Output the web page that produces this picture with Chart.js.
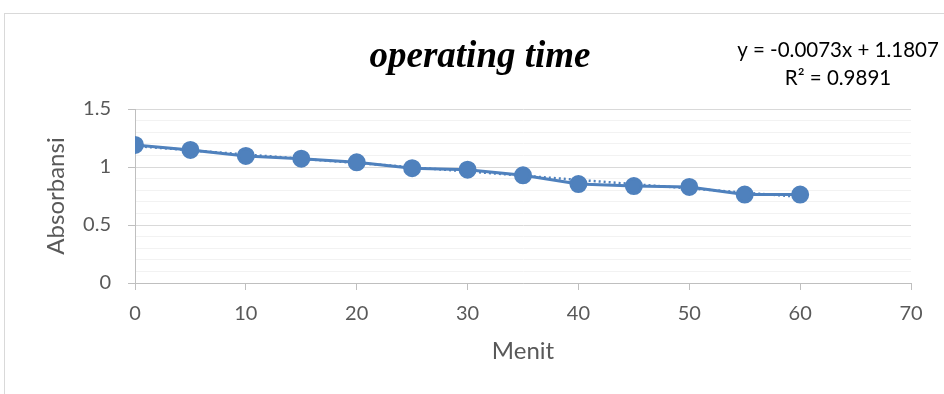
<!DOCTYPE html>
<html>
<head>
<meta charset="utf-8">
<script src="https://cdn.jsdelivr.net/npm/chart.js@4"></script>
<style>
  html, body { margin: 0; padding: 0; background: #fff; }
  #wrap { width: 944px; height: 394px; }
</style>
</head>
<body>
<div id="wrap"><canvas id="lineChart" width="944" height="394"></canvas></div>
<script>
// data
var menit = [0, 5, 10, 15, 20, 25, 30, 35, 40, 45, 50, 55, 60];
var absorbansi = [1.19, 1.147, 1.095, 1.072, 1.04, 0.99, 0.977, 0.928, 0.853, 0.836, 0.828, 0.762, 0.762];
var slope = -0.0073;
var intercept = 1.1807;
var trendX = [0, 60];
var equationLines = ['y = -0.0073x + 1.1807', 'R\u00b2 = 0.9891'];
var chartTitle = 'operating time';

var blue = '#4f81bd';
var sans = 'Lato, "Open Sans", sans-serif';

// frame + title + equation
var decor = {
    id: 'decor',
    beforeDraw: function (chart) {
        var c = chart.ctx;
        c.save();
        c.strokeStyle = '#d9d9d9';
        c.lineWidth = 1;
        c.strokeRect(4.5, 13.5, 1200, 1200);
        c.restore();
    },
    afterDraw: function (chart) {
        var c = chart.ctx;
        c.save();
        c.fillStyle = '#000';
        c.font = 'italic bold 37px "Liberation Serif", serif';
        c.textAlign = 'center';
        c.textBaseline = 'alphabetic';
        c.fillText(chartTitle, 480, 67);
        c.font = '20.5px ' + sans;
        c.textBaseline = 'middle';
        c.fillText(equationLines[0], 838, 50);
        c.fillText(equationLines[1], 838, 78);
        c.restore();
    }
};

var ctx = document.getElementById('lineChart').getContext('2d');
var myChart = new Chart(ctx, {
    type: 'scatter',
    data: {
        datasets: [{
            label: 'Absorbansi',
            data: menit.map(function (m, i) { return { x: m, y: absorbansi[i] }; }),
            showLine: true,
            borderColor: blue,
            backgroundColor: blue,
            borderWidth: 3,
            pointRadius: 7.5,
            pointHoverRadius: 7.5,
            order: 1
        }, {
            label: 'Linear',
            data: trendX.map(function (x) { return { x: x, y: slope * x + intercept }; }),
            showLine: true,
            borderColor: blue,
            borderWidth: 2.5,
            borderDash: [2, 3],
            pointRadius: 0,
            order: 2
        }]
    },
    options: {
        responsive: false,
        animation: false,
        layout: { padding: { left: 38, top: 109, right: 33, bottom: 24 } },
        plugins: {
            legend: { display: false },
            tooltip: { enabled: false }
        },
        scales: {
            x: {
                type: 'linear',
                min: 0,
                max: 70,
                afterFit: function (s) { s.height = 87; },
                ticks: { stepSize: 10, autoSkip: false, color: '#595959', font: { family: sans, size: 20 }, padding: 12 },
                grid: { drawOnChartArea: false, tickLength: 7, color: '#bfbfbf' },
                border: { color: '#bfbfbf', width: 1 },
                title: { display: true, text: 'Menit', color: '#595959', font: { family: sans, size: 24 } }
            },
            y: {
                min: 0,
                max: 1.5,
                afterFit: function (s) { s.width = 97; },
                ticks: {
                    stepSize: 0.1,
                    autoSkip: false,
                    color: '#595959',
                    font: { family: sans, size: 20 },
                    padding: 17,
                    callback: function (v) {
                        var r = Math.round(v * 10);
                        return r % 5 === 0 ? String(r / 10) : '';
                    }
                },
                grid: {
                    tickLength: 7,
                    color: function (c) {
                        var r = Math.round(c.tick.value * 10);
                        return r % 5 === 0 ? '#d9d9d9' : '#f2f2f2';
                    },
                    tickColor: function (c) {
                        var r = Math.round(c.tick.value * 10);
                        return r % 5 === 0 ? '#bfbfbf' : 'rgba(0,0,0,0)';
                    },
                    lineWidth: 1
                },
                border: { color: '#bfbfbf', width: 1 },
                title: { display: true, text: 'Absorbansi', color: '#595959', font: { family: sans, size: 24 } }
            }
        }
    },
    plugins: [decor]
});
</script>
</body>
</html>
